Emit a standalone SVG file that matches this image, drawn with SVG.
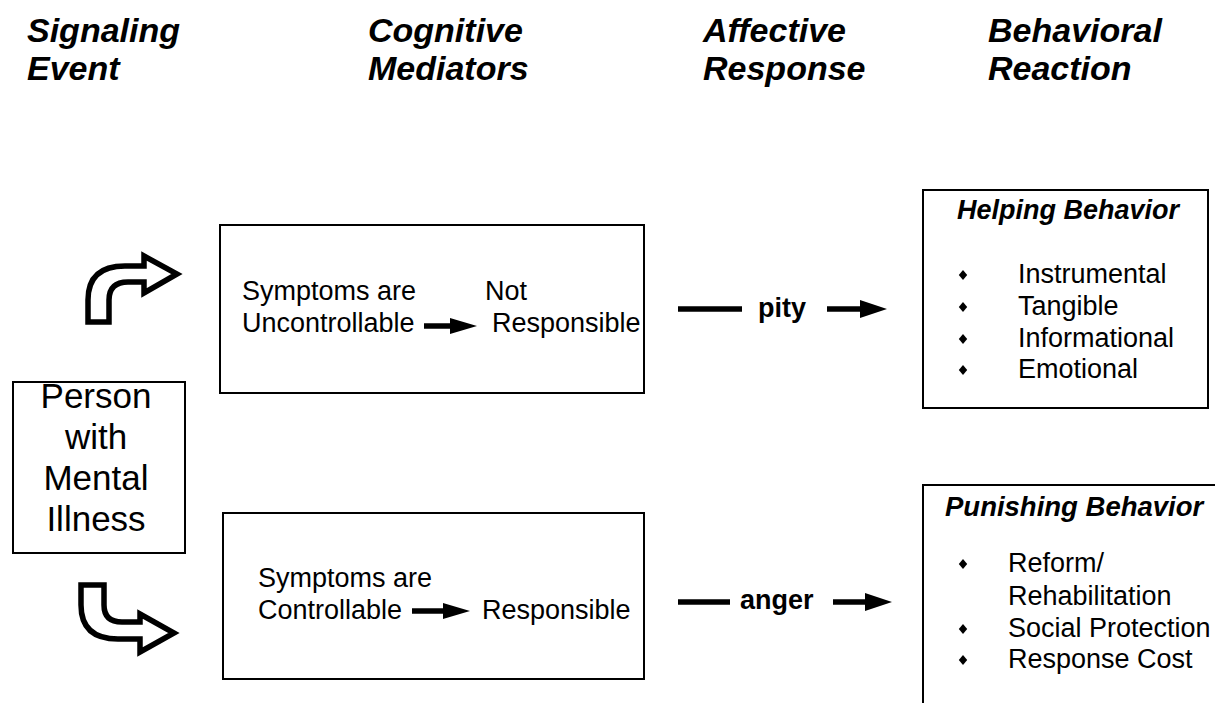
<svg xmlns="http://www.w3.org/2000/svg" width="1215" height="703" viewBox="0 0 1215 703">
<style>
text{font-family:"Liberation Sans",Arial,sans-serif;fill:#000}
.hd{font-size:34px;font-weight:bold;font-style:italic}
.bt{font-size:27px;font-weight:bold;font-style:italic}
.bt2{font-size:27.5px;font-weight:bold;font-style:italic}
.tx{font-size:27px}
.pm{font-size:35px}
.lb{font-size:27px;font-weight:bold}
.box{fill:#fff;stroke:#000;stroke-width:2}
.bend{fill:#fff;stroke:#000;stroke-width:5.5;stroke-linejoin:miter}
.bar{stroke:#000;stroke-width:5.5}
</style>
<defs>
<path id="dia" d="M0,-5 L4.2,0 L0,5 L-4.2,0 Z" fill="#000"/>
</defs>
<rect width="1215" height="703" fill="#fff"/>
<g id="headers">
<text class="hd" x="27" y="42">Signaling</text>
<text class="hd" x="27" y="80">Event</text>
<text class="hd" x="368" y="42">Cognitive</text>
<text class="hd" x="368" y="80">Mediators</text>
<text class="hd" x="703" y="42">Affective</text>
<text class="hd" x="703" y="80">Response</text>
<text class="hd" x="988" y="42">Behavioral</text>
<text class="hd" x="988" y="80">Reaction</text>
</g>
<g id="person">
<rect class="box" x="13" y="382" width="172" height="171"/>
<text class="pm" x="96" y="408" text-anchor="middle">Person</text>
<text class="pm" x="96" y="449" text-anchor="middle">with</text>
<text class="pm" x="96" y="490" text-anchor="middle">Mental</text>
<text class="pm" x="96" y="531" text-anchor="middle">Illness</text>
</g>
<g id="uncontrollable">
<rect class="box" x="220" y="225" width="424" height="168"/>
<text class="tx" x="242" y="300">Symptoms are</text>
<text class="tx" x="242" y="332">Uncontrollable</text>
<text class="tx" x="485" y="300">Not</text>
<text class="tx" x="492" y="332">Responsible</text>
<line class="bar" x1="424" y1="326" x2="452" y2="326"/>
<polygon points="450,318 477,326 450,334" fill="#000"/>
</g>
<g id="controllable">
<rect class="box" x="223" y="513" width="421" height="166"/>
<text class="tx" x="258" y="587">Symptoms are</text>
<text class="tx" x="258" y="619">Controllable</text>
<text class="tx" x="482" y="619">Responsible</text>
<line class="bar" x1="412" y1="611" x2="445" y2="611"/>
<polygon points="443,603 470,611 443,619" fill="#000"/>
</g>
<g id="helping">
<rect class="box" x="923" y="190" width="285" height="218"/>
<text class="bt" x="957" y="219">Helping Behavior</text>
<use href="#dia" x="963" y="275"/>
<use href="#dia" x="963" y="307"/>
<use href="#dia" x="963" y="339"/>
<use href="#dia" x="963" y="370"/>
<text class="tx" x="1018" y="283">Instrumental</text>
<text class="tx" x="1018" y="315">Tangible</text>
<text class="tx" x="1018" y="347">Informational</text>
<text class="tx" x="1018" y="378">Emotional</text>
</g>
<g id="punishing">
<rect class="box" x="923" y="485" width="320" height="250"/>
<text class="bt2" x="945" y="516">Punishing Behavior</text>
<use href="#dia" x="963" y="564"/>
<use href="#dia" x="963" y="629"/>
<use href="#dia" x="963" y="660"/>
<text class="tx" x="1008" y="572">Reform/</text>
<text class="tx" x="1008" y="605">Rehabilitation</text>
<text class="tx" x="1008" y="637">Social Protection</text>
<text class="tx" x="1008" y="668">Response Cost</text>
</g>
<g id="connectors">
<path class="bend" d="M 88 322 L 88 300 Q 88 266 125 266 L 144 266 L 144 256 L 177 274 L 144 293 L 144 282 L 128 282 Q 109 282 109 300 L 109 322 Z"/>
<path class="bend" d="M 81 585 L 104 585 L 104 605 Q 104 622 122 622 L 140 622 L 140 614 L 174 633 L 140 652 L 140 639 L 118 639 Q 81 639 81 605 Z"/>
<line class="bar" x1="678" y1="309" x2="742" y2="309"/>
<text class="lb" x="758" y="317">pity</text>
<line class="bar" x1="827" y1="309" x2="862" y2="309"/>
<polygon points="860,300 887,309 860,318" fill="#000"/>
<line class="bar" x1="678" y1="602" x2="730" y2="602"/>
<text class="lb" x="740" y="609">anger</text>
<line class="bar" x1="833" y1="602" x2="867" y2="602"/>
<polygon points="865,593 892,602 865,611" fill="#000"/>
</g>
</svg>
